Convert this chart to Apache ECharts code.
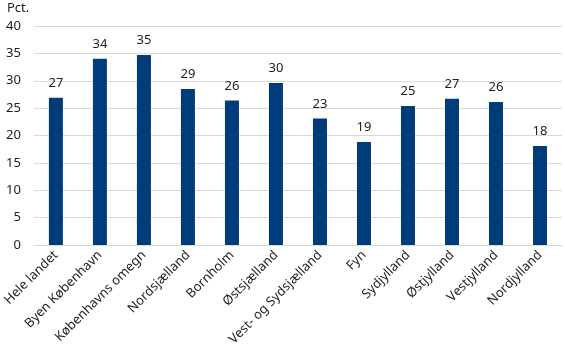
<!DOCTYPE html>
<html>
<head>
<meta charset="utf-8">
<script src="https://cdn.jsdelivr.net/npm/echarts@6/dist/echarts.min.js"></script>
<style>html,body{margin:0;padding:0;background:#fff}#c{width:565px;height:356px}</style>
</head>
<body>
<div id="c"></div>
<script>
const categories = ["Hele landet","Byen København","Københavns omegn","Nordsjælland","Bornholm","Østsjælland","Vest- og Sydsjælland","Fyn","Sydjylland","Østjylland","Vestjylland","Nordjylland"];
const values = [26.9, 34.0, 34.7, 28.5, 26.4, 29.6, 23.1, 18.8, 25.4, 26.7, 26.1, 18.1];
const yTicks = [0, 5, 10, 15, 20, 25, 30, 35, 40];
const unitLabel = "Pct.";

const FONT = "'Noto Sans', 'DejaVu Sans', sans-serif";
const chart = echarts.init(document.getElementById('c'), null, {renderer: 'canvas'});
chart.setOption({
  animation: false,
  backgroundColor: '#fff',
  grid: {left: 31, right: 3, top: 26, bottom: 111},
  graphic: [{type: 'text', left: 7, top: 2, style: {text: unitLabel, font: '13px ' + FONT, fill: '#222'}}],
  xAxis: {
    type: 'category', data: categories,
    axisLine: {lineStyle: {color: '#d9d9d9', width: 1}},
    axisTick: {show: false},
    axisLabel: {rotate: 45, interval: 0, margin: 8, color: '#222', fontSize: 13, fontFamily: FONT}
  },
  yAxis: {
    type: 'value', min: yTicks[0], max: yTicks[yTicks.length - 1], interval: 5,
    axisLine: {show: false}, axisTick: {show: false},
    axisLabel: {color: '#222', fontSize: 13, fontFamily: FONT, margin: 13},
    splitLine: {lineStyle: {color: '#d9d9d9', width: 1}}
  },
  series: [{
    type: 'bar', data: values, barWidth: 14,
    itemStyle: {color: '#003B7A'},
    label: {show: true, position: 'top', distance: 8, color: '#222', fontSize: 13, fontFamily: FONT,
      formatter: p => Math.round(p.value)}
  }]
});
</script>
</body>
</html>
